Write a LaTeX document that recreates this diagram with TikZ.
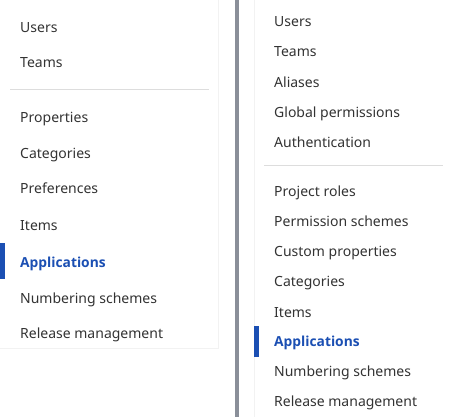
\documentclass[tikz,border=0pt]{standalone}
\usepackage{fontspec}
\setmainfont{Noto Sans}
\newfontfamily\selfont{Open Sans}
\definecolor{txt}{HTML}{333333}
\definecolor{selblue}{HTML}{1B4FB3}
\definecolor{divgray}{HTML}{8A8F99}
\definecolor{sepgray}{HTML}{DDDDDD}
\definecolor{edge}{HTML}{F2F2F2}
\begin{document}
\begin{tikzpicture}[x=1pt,y=-1pt,
  item/.style={anchor=base west,inner sep=0pt,text=txt,font=\fontsize{14}{16}\selectfont},
  selitem/.style={item,text=selblue,font=\selfont\bfseries\fontsize{13.8}{16}\selectfont},
  sepline/.style={draw=sepgray,line width=1pt},
  panel/.style={draw=edge,line width=0.6pt,fill=white}]
\useasboundingbox (0,0) rectangle (453,417);
\fill[white] (0,0) rectangle (453,417);
% left panel
\draw[panel] (-1,-1) rectangle (218,348);
\node[item] (l1) at (20,33) {Users};
\node[item] (l2) at (20,68) {Teams};
\coordinate (ls1) at (10,90);
\coordinate (ls2) at (209,90);
\draw[sepline] (ls1) -- (ls2);
\node[item] (l3) at (20,123) {Properties};
\node[item] (l4) at (20,159) {Categories};
\node[item] (l5) at (20,194) {Preferences};
\node[item] (l6) at (20,231) {Items};
\node[selitem] (l7) at (20,267) {Applications};
\node[item] (l8) at (20,303) {Numbering schemes};
\node[item] (l9) at (20,338) {Release management};
\fill[selblue] (0,243) rectangle (5,279);
% divider
\fill[divgray] (235,0) rectangle (239,417);
% right panel
\draw[panel] (254,-1) rectangle (454,418);
\node[item] (r1) at (274,27) {Users};
\node[item] (r2) at (274,57) {Teams};
\node[item] (r3) at (274,88) {Aliases};
\node[item] (r4) at (274,118) {Global permissions};
\node[item] (r5) at (274,148) {Authentication};
\coordinate (rs1) at (264,166);
\coordinate (rs2) at (443,166);
\draw[sepline] (rs1) -- (rs2);
\node[item] (r6) at (274,197) {Project roles};
\node[item] (r7) at (274,226) {Permission schemes};
\node[item] (r8) at (274,257) {Custom properties};
\node[item] (r9) at (274,287) {Categories};
\node[item] (r10) at (274,317) {Items};
\node[selitem] (r11) at (274,346) {Applications};
\node[item] (r12) at (274,376) {Numbering schemes};
\node[item] (r13) at (274,406) {Release management};
\fill[selblue] (254,326) rectangle (259,357);
\end{tikzpicture}
\end{document}
